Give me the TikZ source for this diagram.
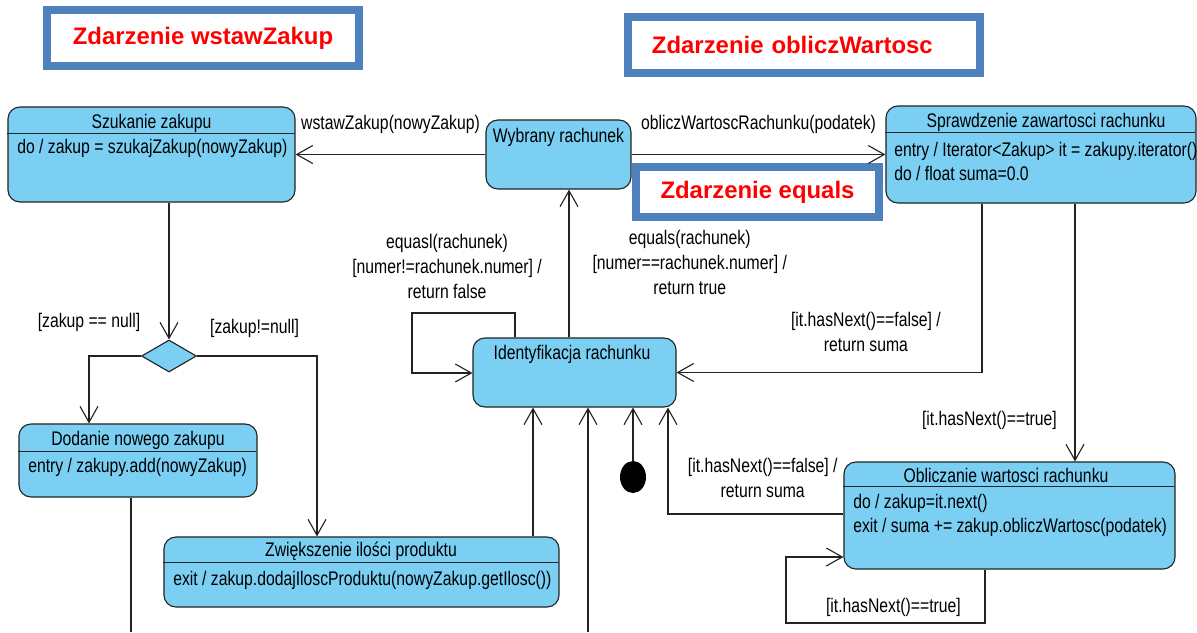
\documentclass[tikz,border=0pt]{standalone}
\usepackage{fontspec}
\setmainfont{Liberation Sans}[FakeStretch=0.8]
\newfontfamily\headfont{Liberation Sans}
\usepackage{xcolor}
\definecolor{statefill}{RGB}{122,207,243}
\definecolor{framebl}{RGB}{79,129,189}
\definecolor{evred}{RGB}{255,0,0}
\definecolor{edge}{RGB}{35,35,35}
\usepackage{tikz}
\usetikzlibrary{arrows.meta, positioning, shapes.geometric}

\begin{document}
\begin{tikzpicture}[
    x=0.025cm, y=-0.025cm,
    stbox/.style={
        rectangle, draw=edge, fill=statefill,
        rounded corners=0.3cm, line width=0.8pt, inner sep=0pt
    },
    evbox/.style={
        rectangle, draw=framebl, fill=white, line width=0.2cm,
        inner sep=0pt, text=evred,
        font=\headfont\bfseries\fontsize{17}{20}\selectfont
    },
    txt/.style={inner sep=0pt, font=\fontsize{14}{17.1}\selectfont},
    lab/.style={inner sep=0pt, align=center, font=\fontsize{14}{17.8}\selectfont},
    arr/.style={-{Straight Barb[length=4mm, width=4.5mm]}, line width=0.8pt, draw=edge},
    wire/.style={line width=0.8pt, draw=edge}
]
\useasboundingbox (0,0) rectangle (1197,632);

% --- Zdarzenia ---
\node[evbox, minimum width=7.8cm, minimum height=1.4cm]    (evWstaw)  at (203,38)    {Zdarzenie wstawZakup};
\node[evbox, minimum height=1.4cm, text width=7.6cm, inner xsep=0.6cm, align=left]
    (evOblicz) at (804,45) {Zdarzenie obliczWartosc};
\node[evbox, minimum width=6.075cm, minimum height=1.25cm] (evEquals) at (757.5,192) {Zdarzenie equals};

% --- Stany ---
\node[stbox, minimum width=7.175cm, minimum height=2.375cm] (szuk) at (151.5,154.5) {};
\node[txt] (szukT) at (151.5,123) {Szukanie zakupu};
\draw[wire] (szuk.north west) ++(0,27) -- ++(287,0);
\node[txt, anchor=west] (szukB) at (17,148) {do / zakup = szukajZakup(nowyZakup)};

\node[stbox, minimum width=3.625cm, minimum height=1.725cm] (wybr) at (558.5,154.5) {};
\node[txt] (wybrT) at (558.5,137) {Wybrany rachunek};

\node[stbox, minimum width=7.75cm, minimum height=2.425cm] (spr) at (1041,154.5) {};
\node[txt] (sprT) at (1046,122) {Sprawdzenie zawartosci rachunku};
\draw[wire] (spr.north west) ++(0,27) -- ++(310,0);
\node[txt, anchor=west, align=left] (sprB) at (894,161)
    {entry / Iterator<Zakup> it = zakupy.iterator()\\do / float suma=0.0};

\node[stbox, minimum width=5.075cm, minimum height=1.725cm] (ident) at (574.5,372.5) {};
\node[txt] (identT) at (572,354) {Identyfikacja rachunku};

\node[stbox, minimum width=5.95cm, minimum height=1.825cm] (dod) at (138,460.5) {};
\node[txt] (dodT) at (138,440) {Dodanie nowego zakupu};
\draw[wire] (dod.north west) ++(0,28) -- ++(238,0);
\node[txt, anchor=west] (dodB) at (28,467) {entry / zakupy.add(nowyZakup)};

\node[stbox, minimum width=9.875cm, minimum height=1.75cm] (zwiek) at (361.5,572) {};
\node[txt] (zwiekT) at (361,551) {Zwiększenie ilości produktu};
\draw[wire] (zwiek.north west) ++(0,26) -- ++(395,0);
\node[txt, anchor=west] (zwiekB) at (173,580) {exit / zakup.dodajIloscProduktu(nowyZakup.getIlosc())};

\node[stbox, minimum width=8.275cm, minimum height=2.675cm] (obl) at (1009.5,515.5) {};
\node[txt] (oblT) at (1006,475) {Obliczanie wartosci rachunku};
\draw[wire] (obl.north west) ++(0,25) -- ++(331,0);
\node[txt, anchor=west, align=left] (oblB) at (853,515)
    {do / zakup=it.next()\\exit / suma += zakup.obliczWartosc(podatek)};

\node[diamond, draw=edge, fill=statefill, line width=0.8pt, inner sep=0pt,
      minimum width=1.375cm, minimum height=0.8cm] (dec) at (169,356) {};
\node[ellipse, fill=black, inner sep=0pt,
      minimum width=0.65cm, minimum height=0.8cm] (start) at (633,477) {};

% --- Punkty załamania ---
\coordinate (dodIn)    at (89,0);
\coordinate (zwIn)     at (317,0);
\coordinate (dodOut)   at (131,632);
\coordinate (identIn)  at (588,632);
\coordinate (zwOut)    at (533,0);
\coordinate (oblOut)   at (668,514);
\coordinate (sprOut)   at (982,0);
\coordinate (sprDown)  at (1075,0);
\coordinate (oblLoopA) at (985,623);
\coordinate (oblLoopB) at (786,557);
\coordinate (idLoopA)  at (515,313);
\coordinate (idLoopB)  at (412,373);
\coordinate (eqUp)     at (569,0);

% 1. wstawZakup
\draw[arr] (wybr) --
    node[lab, above=0.5cm] (lWstaw) {wstawZakup(nowyZakup)} (szuk);

% 2. obliczWartosc
\draw[arr] (wybr) --
    node[lab, above=0.5cm] (lOblicz) {obliczWartoscRachunku(podatek)} (spr);

% 3. decyzja
\draw[arr] (szuk.south -| dec) -- (dec.north);
\draw[arr] (dec.west) -|
    node[lab, pos=0.5, above=0.6cm] (lNull) {[zakup == null]} (dod.north -| dodIn);
\draw[arr] (dec.east) -|
    node[lab, pos=0.24, above=0.45cm] (lNotNull) {[zakup!=null]} (zwiek.north -| zwIn);

% 4. powrót do identyfikacji
\draw[wire] (dod.south -| dodOut) -- (dodOut);
\draw[arr] (identIn) -- (ident.south -| identIn);
\draw[arr] (zwiek.north -| zwOut) -- (ident.south -| zwOut);
\draw[arr] (start.north) -- (ident.south -| start.north);

% 5. obliczanie wartosci
\draw[arr] (obl.west |- oblOut) -|
    node[lab, pos=0.23, above=0.39cm] (lFalseB) {[it.hasNext()==false] /\\return suma}
    (ident.south -| oblOut);
\draw[arr] (spr.south -| sprOut) |-
    node[lab, pos=0.69, above=0.5cm] (lFalseA) {[it.hasNext()==false] /\\return suma}
    (ident.east);
\draw[arr] (spr.south -| sprDown) --
    node[lab, pos=0.84, left=0.44cm] (lTrueA) {[it.hasNext()==true]}
    (obl.north -| sprDown);
\draw[arr] (obl.south -| oblLoopA) -- (oblLoopA) -|
    node[lab, pos=0.23, above=0.15cm] (lTrueB) {[it.hasNext()==true]}
    (oblLoopB) -- (obl.west |- oblLoopB);

% 6. equals
\draw[arr] (ident.north -| idLoopA) -- (idLoopA) -|
    node[lab, pos=0.33, above=0.34cm] (lNeq)
    {equasl(rachunek)\\{}[numer!=rachunek.numer] /\\return false}
    (idLoopB) -- (ident.west |- idLoopB);
\draw[arr] (ident.north -| eqUp) --
    node[lab, pos=0.51, right=0.575cm] (lEq)
    {equals(rachunek)\\{}[numer==rachunek.numer] /\\return true}
    (wybr.south -| eqUp);

\end{tikzpicture}
\end{document}
